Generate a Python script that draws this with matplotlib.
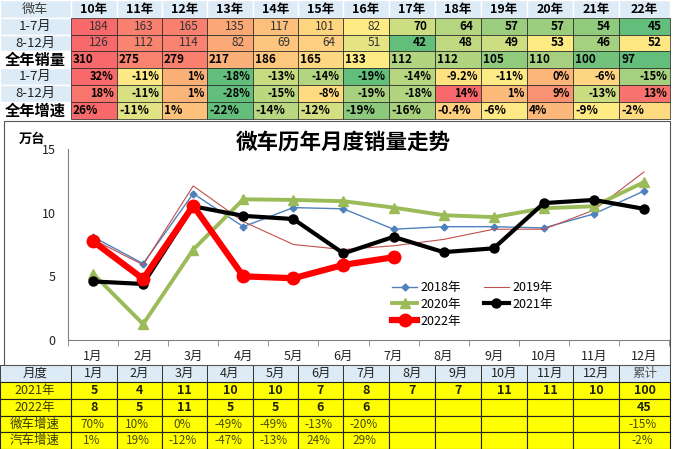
import numpy as np
import matplotlib.pyplot as plt
from matplotlib.patches import Rectangle

plt.rcParams['font.family'] = ['Noto Sans CJK SC', 'DejaVu Sans']

# ---- top table data ----
years = ['10年', '11年', '12年', '13年', '14年', '15年', '16年',
         '17年', '18年', '19年', '20年', '21年', '22年']
sales_1_7 = [184, 163, 165, 135, 117, 101, 82, 70, 64, 57, 57, 54, 45]
sales_8_12 = [126, 112, 114, 82, 69, 64, 51, 42, 48, 49, 53, 46, 52]
sales_full = [310, 275, 279, 217, 186, 165, 133, 112, 112, 105, 110, 100, 97]
growth_1_7 = ['32%', '-11%', '1%', '-18%', '-13%', '-14%', '-19%',
              '-14%', '-9.2%', '-11%', '0%', '-6%', '-15%']
growth_8_12 = ['18%', '-11%', '1%', '-28%', '-15%', '-8%', '-19%',
               '-18%', '14%', '1%', '9%', '-13%', '13%']
growth_full = ['26%', '-11%', '1%', '-22%', '-14%', '-12%', '-19%',
               '-16%', '-0.4%', '-6%', '4%', '-9%', '-2%']

# heatmap colours
colors_1_7 = ['#F8696B', '#F97F6F', '#F9806F', '#FBA877', '#FDC07C', '#FED57F', '#FFEB84',
              '#CDDD82', '#B5D680', '#9BCD7E', '#9BCD7E', '#90CA7D', '#63BE7B']
colors_8_12 = ['#F8696B', '#F98570', '#F98270', '#FBAA77', '#FDC57D', '#FED07F', '#E5E483',
               '#63BE7B', '#C0D980', '#CCDD82', '#FFEB84', '#A4D07F', '#FFE884']
colors_full = ['#F8696B', '#F9836F', '#F9806F', '#FCB079', '#FDC77D', '#FED880', '#FFEB84',
               '#B1D480', '#B1D480', '#8FCA7D', '#A6D07F', '#72C27C', '#63BE7B']
colors_g17 = ['#F8696B', '#FCE985', '#FBB078', '#63BE7B', '#C7DB81', '#B4D580', '#63BE7B',
              '#B8D680', '#FFE383', '#FCEA84', '#FCB67A', '#FED580', '#A5D07F']
colors_g812 = ['#F8756D', '#D9E082', '#FBB579', '#63BE7B', '#BBD780', '#FEDB81', '#A8D17F',
               '#B0D480', '#F8696B', '#FCBA7A', '#F99272', '#CBDC81', '#F8736D']
colors_gfull = ['#F8696B', '#E0E283', '#FDC17C', '#63BE7B', '#B9D780', '#D3DF82', '#8DC97D',
                '#A8D17F', '#FED07F', '#FFE984', '#FCB77A', '#FFEB84', '#FEDB80']

# ---- monthly line data (万台) ----
months = ['1月', '2月', '3月', '4月', '5月', '6月', '7月', '8月', '9月', '10月', '11月', '12月']
s2018 = [8.1, 6.0, 11.5, 8.9, 10.4, 10.3, 8.7, 8.9, 8.9, 8.8, 9.9, 11.7]
s2019 = [7.9, 5.9, 12.1, 9.3, 7.5, 7.1, 7.4, 7.9, 8.7, 8.7, 10.2, 13.2]
s2020 = [5.2, 1.25, 7.1, 11.05, 11.0, 10.9, 10.4, 9.8, 9.65, 10.35, 10.5, 12.4]
s2021 = [4.6, 4.4, 10.5, 9.75, 9.5, 6.8, 8.1, 6.9, 7.2, 10.75, 11.0, 10.3]
s2022 = [7.75, 4.8, 10.55, 5.0, 4.85, 5.9, 6.5]

# ---- bottom table data ----
row_labels = ['2021年', '2022年', '微车增速', '汽车增速']
bt_2021 = ['5', '4', '11', '10', '10', '7', '8', '7', '7', '11', '11', '10', '100']
bt_2022 = ['8', '5', '11', '5', '5', '6', '6', '', '', '', '', '', '45']
bt_micro = ['70%', '10%', '0%', '-49%', '-49%', '-13%', '-20%', '', '', '', '', '', '-15%']
bt_auto = ['1%', '19%', '-12%', '-47%', '-13%', '24%', '29%', '', '', '', '', '', '-2%']

W, H = 676, 449
fig = plt.figure(figsize=(W / 100, H / 100), dpi=100)
bg = fig.add_axes([0, 0, 1, 1])
bg.set_xlim(0, W)
bg.set_ylim(H, 0)
bg.axis('off')

col_x = [0, 71, 117, 162, 207, 253, 298, 343, 389, 435, 481, 527, 573, 619, 670]
top_y = [0, 18, 35, 51, 68, 85, 102, 119]
bot_y = [365, 382, 399, 416, 432, 449]
head_blue = '#DDEBF7'


def cell(x0, x1, y0, y1, color, edge=None, lw=0.6):
    bg.add_patch(Rectangle((x0, y0), x1 - x0, y1 - y0, facecolor=color,
                           edgecolor=edge if edge else 'none', lw=lw, zorder=1))


# top table header
cell(col_x[0], col_x[1], top_y[0], top_y[1], head_blue, 'white', 1)
bg.text(35, 9, '微车', ha='center', va='center', fontsize=9.5, color='#404040')
for j, yr in enumerate(years):
    cell(col_x[j + 1], col_x[j + 2], top_y[0], top_y[1], head_blue, 'white', 1)
    bg.text((col_x[j + 1] + col_x[j + 2]) / 2, 9, yr, ha='center', va='center',
            fontsize=9, fontweight='bold', color='black')

first_col = [('1-7月', head_blue, 9.5, 'normal', 'center'),
             ('8-12月', head_blue, 9.5, 'normal', 'center'),
             ('全年销量', 'white', 11, 'bold', 'left'),
             ('1-7月', head_blue, 9.5, 'normal', 'center'),
             ('8-12月', head_blue, 9.5, 'normal', 'center'),
             ('全年增速', 'white', 11, 'bold', 'left')]
for i, (lab, fc, fs, fw, ha) in enumerate(first_col):
    y0, y1 = top_y[i + 1], top_y[i + 2]
    cell(0, col_x[1], y0, y1, fc, 'white', 1)
    xt = 35 if ha == 'center' else 5
    bg.text(xt, (y0 + y1) / 2, lab, ha=ha, va='center', fontsize=fs,
            fontweight=fw, color='#222222' if fw == 'normal' else 'black')

rows = [(sales_1_7, colors_1_7, 'num'), (sales_8_12, colors_8_12, 'num'),
        (sales_full, colors_full, 'left'), (growth_1_7, colors_g17, 'right'),
        (growth_8_12, colors_g812, 'right'), (growth_full, colors_gfull, 'left')]
for i, (vals, cols, kind) in enumerate(rows):
    y0, y1 = top_y[i + 1], top_y[i + 2]
    yc = (y0 + y1) / 2
    for j, v in enumerate(vals):
        x0, x1 = col_x[j + 1], col_x[j + 2]
        cell(x0, x1, y0, y1, cols[j], '#222222', 0.5)
        if kind == 'num':
            bold = j >= 7
            bg.text(x1 - 8, yc, str(v), ha='right', va='center', fontsize=8.5,
                    fontweight='bold' if bold else 'normal',
                    color='black' if bold else '#333333')
        elif kind == 'left':
            bg.text(x0 + 2, yc, str(v), ha='left', va='center', fontsize=8.5,
                    fontweight='bold', color='black')
        else:
            bg.text(x1 - 3, yc, str(v), ha='right', va='center', fontsize=8,
                    fontweight='bold', color='black')

# bottom table
cell(0, col_x[1], bot_y[0], bot_y[1], head_blue, '#222222', 0.6)
bg.text(35, (bot_y[0] + bot_y[1]) / 2, '月度', ha='center', va='center',
        fontsize=9, color='#222222')
for j, lab in enumerate(months + ['累计']):
    x0, x1 = col_x[j + 1], col_x[j + 2]
    cell(x0, x1, bot_y[0], bot_y[1], head_blue, '#222222', 0.6)
    bg.text((x0 + x1) / 2, (bot_y[0] + bot_y[1]) / 2, lab, ha='center', va='center',
            fontsize=9, color='#555555' if lab == '累计' else '#222222')

bt_rows = [bt_2021, bt_2022, bt_micro, bt_auto]
for i, (lab, vals) in enumerate(zip(row_labels, bt_rows)):
    y0, y1 = bot_y[i + 1], bot_y[i + 2]
    yc = (y0 + y1) / 2
    cell(0, col_x[1], y0, y1, '#FFFF00', '#222222', 0.8)
    bg.text(35, yc, lab, ha='center', va='center', fontsize=9, color='#3A3A00')
    for j, v in enumerate(vals):
        x0, x1 = col_x[j + 1], col_x[j + 2]
        cell(x0, x1, y0, y1, '#FFFF00', '#222222', 0.8)
        if i < 2:
            bg.text((x0 + x1) / 2, yc, v, ha='center', va='center', fontsize=9,
                    fontweight='bold', color='#222200')
        else:
            bg.text((x0 + x1) / 2 - 2, yc, v, ha='center', va='center', fontsize=8.5,
                    color='#4A4A00')

# chart frame
bg.add_patch(Rectangle((4, 121), 666, 244, facecolor='white', edgecolor='#555555',
                       lw=0.8, zorder=1))
bg.text(343, 142, '微车历年月度销量走势', ha='center', va='center', fontsize=15.5,
        fontweight='bold', color='black', zorder=3)
bg.text(19, 139, '万台', ha='left', va='center', fontsize=9.5, fontweight='bold',
        color='black', zorder=3)

# line chart
ax = fig.add_axes([68 / W, (H - 340) / H, 601 / W, 191 / H], zorder=2)
ax.set_facecolor('none')
x = np.arange(len(months))
l18, = ax.plot(x, s2018, color='#4F81BD', lw=1, marker='D', ms=3.5, label='2018年')
l19, = ax.plot(x, s2019, color='#C0504D', lw=0.8, label='2019年')
l20, = ax.plot(x, s2020, color='#9BBB59', lw=2.8, marker='^', ms=7.5, label='2020年')
l21, = ax.plot(x, s2021, color='black', lw=3, marker='o', ms=6.5, label='2021年')
l22, = ax.plot(x[:len(s2022)], s2022, color='#FF0000', lw=4.5, marker='o', ms=9,
               label='2022年')

ax.set_xlim(-0.5, 11.5)
ax.set_ylim(0, 15)
ax.set_yticks([0, 5, 10, 15])
ax.set_xticks(x)
ax.set_xticklabels(months)
ax.set_xticks(np.arange(-0.5, 12, 1), minor=True)
ax.tick_params(axis='x', which='major', length=0, pad=7, labelsize=9, colors='#222222')
ax.tick_params(axis='x', which='minor', length=4, color='#808080')
ax.tick_params(axis='y', length=0, pad=9, labelsize=9, colors='#222222')
for side in ['top', 'right']:
    ax.spines[side].set_visible(False)
for side in ['left', 'bottom']:
    ax.spines[side].set_color('#808080')

ax.legend(handles=[l18, l20, l22, l19, l21], ncol=2, frameon=False, fontsize=9,
          loc='upper left', bbox_to_anchor=(387 / W, (H - 276) / H),
          bbox_transform=fig.transFigure, handlelength=2.0, columnspacing=1.8,
          labelspacing=0.3, handletextpad=0.3, borderaxespad=0)

fig.savefig('out.png', dpi=100)
